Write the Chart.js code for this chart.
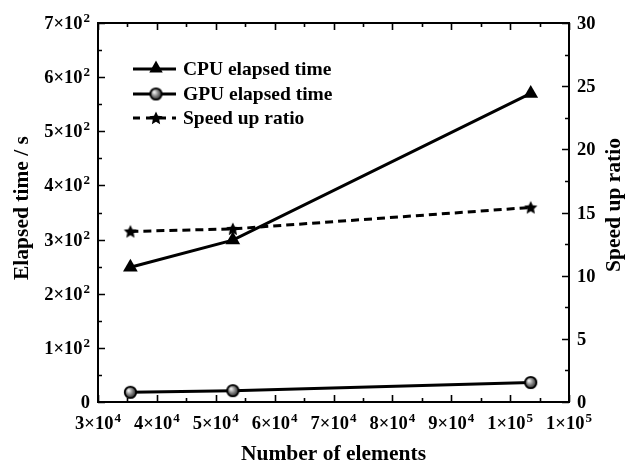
<!DOCTYPE html>
<html>
<head>
<meta charset="utf-8">
<script src="https://cdn.jsdelivr.net/npm/chart.js@4"></script>
<style>
  html, body { margin: 0; padding: 0; background: #fff; }
  #wrap { width: 625px; height: 465px; }
</style>
</head>
<body>
<div id="wrap"><canvas id="chart" width="625" height="465"></canvas></div>
<script>
// values
const elements = [35500, 52900, 103500];
const cpuTime = [249, 299, 570];
const gpuTime = [18, 21, 36];
const speedUp = [13.5, 13.7, 15.4];

// tick labels as [mantissa, exponent]; exponent '' means plain number
const xTicks = [30000, 40000, 50000, 60000, 70000, 80000, 90000, 100000, 110000];
const xTickLabels = [['3×10', '4'], ['4×10', '4'], ['5×10', '4'], ['6×10', '4'], ['7×10', '4'],
                     ['8×10', '4'], ['9×10', '4'], ['1×10', '5'], ['1×10', '5']];
const yTicks = [0, 100, 200, 300, 400, 500, 600, 700];
const yTickLabels = [['0', ''], ['1×10', '2'], ['2×10', '2'], ['3×10', '2'], ['4×10', '2'],
                     ['5×10', '2'], ['6×10', '2'], ['7×10', '2']];
const y1Ticks = [0, 5, 10, 15, 20, 25, 30];

const seriesNames = ['CPU elapsed time', 'GPU elapsed time', 'Speed up ratio'];

const FONT = '"Liberation Serif", "Times New Roman", serif';
const TICK_FONT = 'bold 18.5px ' + FONT;
const SUP_FONT = 'bold 13px ' + FONT;

function starCanvas(r) {
    const c = document.createElement('canvas');
    const s = Math.ceil(r * 2 + 2);
    c.width = s; c.height = s;
    const g = c.getContext('2d');
    g.translate(s / 2, s / 2 + 0.5);
    g.beginPath();
    for (let i = 0; i < 10; i++) {
        const rad = i % 2 === 0 ? r : r * 0.48;
        const a = -Math.PI / 2 + i * Math.PI / 5;
        g.lineTo(Math.cos(a) * rad, Math.sin(a) * rad);
    }
    g.closePath();
    g.fillStyle = '#000';
    g.fill();
    return c;
}

function sphereCanvas(r) {
    const c = document.createElement('canvas');
    const s = Math.ceil(r * 2 + 2);
    c.width = s; c.height = s;
    const g = c.getContext('2d');
    const m = s / 2;
    const grad = g.createRadialGradient(m - r * 0.3, m - r * 0.3, 0.5, m, m, r);
    grad.addColorStop(0, '#f4f4f4');
    grad.addColorStop(0.45, '#888');
    grad.addColorStop(1, '#111');
    g.beginPath();
    g.arc(m, m, r - 0.8, 0, Math.PI * 2);
    g.fillStyle = grad;
    g.fill();
    g.lineWidth = 1.8;
    g.strokeStyle = '#000';
    g.stroke();
    return c;
}

const starImg = starCanvas(7);
const sphereImg = sphereCanvas(6.5);

function triangle(g, x, y, r) {
    g.beginPath();
    g.moveTo(x, y - r);
    g.lineTo(x + r * 0.9, y + r * 0.6);
    g.lineTo(x - r * 0.9, y + r * 0.6);
    g.closePath();
    g.fillStyle = '#000';
    g.fill();
}

// draw "m×10^e" with a raised exponent
function sciText(g, lab, x, y, align) {
    g.font = TICK_FONT;
    const w1 = g.measureText(lab[0]).width;
    g.font = SUP_FONT;
    const w2 = lab[1] ? g.measureText(lab[1]).width + 1 : 0;
    const w = w1 + w2;
    let x0 = x;
    if (align === 'right') x0 = x - w;
    if (align === 'center') x0 = x - w / 2;
    g.textAlign = 'left';
    g.textBaseline = 'alphabetic';
    g.font = TICK_FONT;
    g.fillText(lab[0], x0, y);
    if (lab[1]) {
        g.font = SUP_FONT;
        g.fillText(lab[1], x0 + w1 + 1, y - 7);
    }
}

const framePlugin = {
    id: 'frame',
    afterDraw(chart) {
        const g = chart.ctx;
        const a = chart.chartArea;
        const sx = chart.scales.x, sy = chart.scales.y, sy1 = chart.scales.y1;
        g.save();
        g.strokeStyle = '#000';
        g.fillStyle = '#000';
        g.lineWidth = 2;
        g.strokeRect(a.left, a.top, a.right - a.left, a.bottom - a.top);

        // inward ticks, major and minor
        g.lineWidth = 1.6;
        g.beginPath();
        for (let v = 30000; v <= 110000; v += 5000) {
            const px = Math.round(sx.getPixelForValue(v)) + 0.5;
            const len = v % 10000 === 0 ? 7 : 4;
            g.moveTo(px, a.bottom); g.lineTo(px, a.bottom - len);
            g.moveTo(px, a.top); g.lineTo(px, a.top + len);
        }
        for (let v = 0; v <= 700; v += 50) {
            const py = Math.round(sy.getPixelForValue(v)) + 0.5;
            const len = v % 100 === 0 ? 7 : 4;
            g.moveTo(a.left, py); g.lineTo(a.left + len, py);
        }
        for (let v = 0; v <= 30; v += 2.5) {
            const py = Math.round(sy1.getPixelForValue(v)) + 0.5;
            const len = v % 5 === 0 ? 7 : 4;
            g.moveTo(a.right, py); g.lineTo(a.right - len, py);
        }
        g.stroke();

        // tick labels
        xTicks.forEach((v, i) => sciText(g, xTickLabels[i], sx.getPixelForValue(v), a.bottom + 27, 'center'));
        yTicks.forEach((v, i) => sciText(g, yTickLabels[i], a.left - 8, sy.getPixelForValue(v) + 6, 'right'));
        y1Ticks.forEach(v => sciText(g, [String(v), ''], a.right + 8, sy1.getPixelForValue(v) + 6, 'left'));

        // axis titles
        g.font = 'bold 21.5px ' + FONT;
        g.textAlign = 'center';
        g.textBaseline = 'middle';
        g.fillText('Number of elements', (a.left + a.right) / 2, 454);
        g.save();
        g.translate(22, 208);
        g.rotate(-Math.PI / 2);
        g.fillText('Elapsed time / s', 0, 0);
        g.restore();
        g.save();
        g.translate(614, 205);
        g.rotate(-Math.PI / 2);
        g.fillText('Speed up ratio', 0, 0);
        g.restore();

        // legend
        const lx0 = 133, lx1 = 176, mx = 156, tx = 183;
        const rows = [69, 94, 118];
        g.font = 'bold 19.5px ' + FONT;
        g.textAlign = 'left';
        rows.forEach((ry, i) => {
            g.beginPath();
            g.lineWidth = 3;
            g.setLineDash(i === 2 ? [7, 6] : []);
            g.moveTo(lx0, ry); g.lineTo(lx1, ry);
            g.stroke();
            g.setLineDash([]);
            if (i === 0) triangle(g, mx, ry - 1, 7.5);
            if (i === 1) g.drawImage(sphereImg, mx - sphereImg.width / 2, ry - sphereImg.height / 2);
            if (i === 2) g.drawImage(starImg, mx - starImg.width / 2, ry - starImg.height / 2);
            g.fillText(seriesNames[i], tx, ry + 1);
        });
        g.restore();
    }
};

new Chart(document.getElementById('chart'), {
    type: 'line',
    data: {
        datasets: [
            {
                label: seriesNames[0],
                data: elements.map((x, i) => ({ x: x, y: cpuTime[i] })),
                yAxisID: 'y',
                borderColor: '#000',
                borderWidth: 3,
                pointStyle: 'triangle',
                pointRadius: 8.5,
                pointBackgroundColor: '#000',
                pointBorderColor: '#000',
                pointBorderWidth: 0
            },
            {
                label: seriesNames[1],
                data: elements.map((x, i) => ({ x: x, y: gpuTime[i] })),
                yAxisID: 'y',
                borderColor: '#000',
                borderWidth: 3,
                pointStyle: sphereImg
            },
            {
                label: seriesNames[2],
                data: elements.map((x, i) => ({ x: x, y: speedUp[i] })),
                yAxisID: 'y1',
                borderColor: '#000',
                borderWidth: 3,
                borderDash: [8, 5],
                pointStyle: starImg
            }
        ]
    },
    options: {
        responsive: false,
        animation: false,
        events: [],
        layout: { padding: { top: 23, left: 0, right: 0, bottom: 0 } },
        plugins: { legend: { display: false }, tooltip: { enabled: false } },
        scales: {
            x: {
                type: 'linear',
                min: 30000, max: 110000,
                afterFit: s => { s.height = 465 - 402; },
                grid: { display: false },
                border: { display: false },
                ticks: { display: false }
            },
            y: {
                position: 'left',
                min: 0, max: 700,
                afterFit: s => { s.width = 98; },
                grid: { display: false },
                border: { display: false },
                ticks: { display: false }
            },
            y1: {
                position: 'right',
                min: 0, max: 30,
                afterFit: s => { s.width = 625 - 569; },
                grid: { display: false },
                border: { display: false },
                ticks: { display: false }
            }
        }
    },
    plugins: [framePlugin]
});
</script>
</body>
</html>
